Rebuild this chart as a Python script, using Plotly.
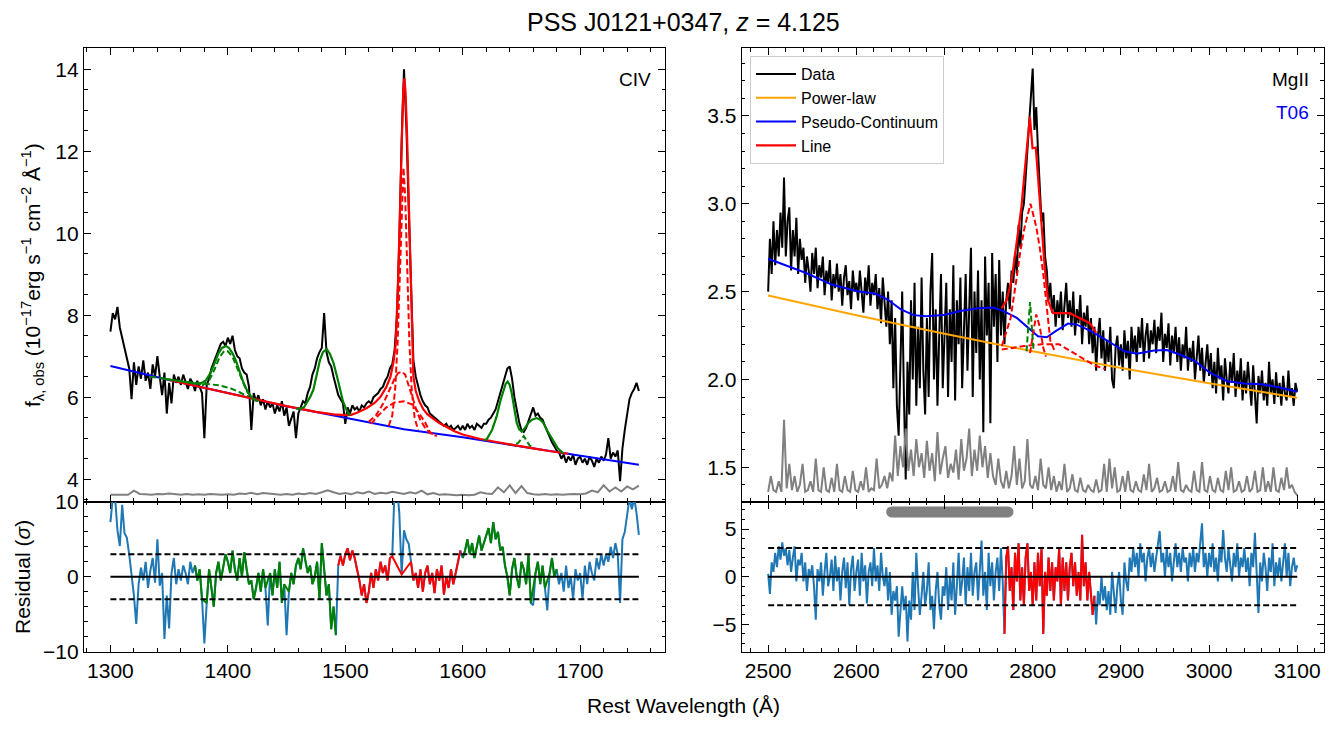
import numpy as np
import plotly.graph_objects as go

W, H = 1333, 729
FONT = "Liberation Sans, Arial, sans-serif"

# ---------------- CIV panel (left) ----------------
civ_start, civ_step = 1300, 2          # wavelength grid of the CIV spectrum (Angstrom)
civ_flux = [
    7.6, 8.05, 7.9, 8.2, 7.7, 7.45, 7.25, 7.0, 6.7, 5.95,
    6.85, 6.3, 6.75, 6.45, 6.9, 6.4, 6.6, 6.2, 6.8, 6.5,
    7.0, 6.5, 6.05, 6.6, 5.6, 6.35, 5.85, 6.55, 6.35, 6.5,
    6.3, 6.55, 6.4, 6.2, 6.45, 6.35, 6.15, 6.4, 6.25, 6.1,
    5.0, 6.3, 6.45, 6.7, 6.85, 7.0, 7.1, 7.3, 7.35, 7.25,
    7.45, 7.3, 7.5, 7.15, 7.0, 6.95, 6.7, 6.6, 6.55, 6.25,
    5.2, 6.1, 5.9, 6.05, 5.8, 5.95, 5.7, 5.9, 5.75, 5.85,
    5.6, 5.8, 5.65, 5.9, 5.55, 5.75, 5.3, 5.5, 5.65, 5.0,
    5.6, 5.75, 5.9, 5.85, 6.1, 6.25, 6.55, 6.7, 6.95, 7.1,
    7.2, 8.05, 7.1, 6.85, 6.75, 6.5, 6.3, 6.05, 5.95, 5.85,
    5.35, 5.75, 5.6, 5.8, 5.7, 5.75, 5.65, 5.8, 5.75, 5.85,
    5.9, 5.85, 6.0, 6.05, 6.1, 6.2, 6.25, 6.4, 6.5, 6.7,
    6.8, 7.15, 8.0, 9.8, 12.3, 14.0, 12.6, 10.6, 8.6, 6.9,
    6.5, 6.25, 6.05, 5.9, 5.8, 5.75, 5.6, 5.55, 5.5, 5.45,
    5.4, 5.35, 5.3, 5.35, 5.25, 5.3, 5.2, 5.25, 5.3, 5.2,
    5.3, 5.2, 5.35, 5.25, 5.3, 5.2, 5.35, 5.3, 5.25, 5.35,
    5.35, 5.45, 5.5, 5.6, 5.7, 5.9, 6.1, 6.3, 6.5, 6.7,
    6.75, 6.45, 6.0, 5.7, 5.4, 5.2, 5.15, 5.25, 5.4, 5.6,
    5.75, 5.55, 5.6, 5.5, 5.45, 5.3, 5.15, 5.0, 4.9, 4.8,
    4.7, 4.65, 4.5, 4.6, 4.4, 4.55, 4.45, 4.6, 4.35, 4.5,
    4.55, 4.4, 4.5, 4.35, 4.55, 4.45, 4.3, 4.5, 4.4, 4.55,
    4.45, 4.6, 5.0, 4.5, 4.65, 4.55, 4.7, 3.95, 4.75, 5.2,
    5.6, 5.95, 6.1, 6.2, 6.35, 6.15,
]
civ_resid = [
    7.3, 10.5, 10.5, 6.2, 4.1, 9.6, 5.8, 5.2, 3.0, 0.5,
    -2.5, -6.3, -1.0, 1.2, -0.5, 2.0, -1.5, 0.8, 2.5, -0.8,
    5.0, -1.2, 0.5, -8.3, -2.5, -6.9, 0.5, 2.5, -1.0, 1.0,
    -0.5, 1.5, 0.5, -1.0, 2.0, 0.5, 1.5, -0.5, 1.0, -3.0,
    -8.9, -3.5, 1.0, -1.5, -4.0, 0.5, 2.0, -0.5, 1.5, 3.0,
    2.0, 0.5, 3.5, 1.0, -0.5, 2.5, 0.0, 3.3, 1.0, -1.0,
    -0.5, -3.0, -1.5, 0.5, -2.0, 1.0, -1.5, -6.5, 0.5, -2.5,
    1.0, -1.5, 2.0, -3.5, -1.0, -7.8, -2.0, 0.5, -1.0, 1.5,
    2.5, 1.0, 3.8, 2.0, 0.5, 1.5, -1.0, 0.0, 2.0, -3.0,
    4.5, 1.0, -2.5, -1.0, -7.0, -4.0, -7.8, 1.5, 2.8, 1.5,
    3.0, 3.8, 2.2, 3.5, 2.5, 1.0, -0.5, -2.5, -1.0, -3.5,
    -2.0, 0.5, -1.5, 1.0, -0.5, 2.0, 0.5, 1.5, -0.5, 2.5,
    2.7, 12.0, 12.0, 8.5, 0.3, 6.2, 5.0, 4.4, 2.0, -0.5,
    0.5, -1.5, 1.0, -2.0, 0.5, 1.5, -1.0, 0.5, -2.2, 1.0,
    -0.5, 1.5, -2.4, 0.0, -1.5, 1.0, -1.0, 0.5, 2.0, 3.5,
    2.5, 3.5, 5.0, 3.0, 4.5, 2.5, 4.0, 5.5, 3.5, 4.5,
    5.5, 6.5, 4.5, 7.3, 5.0, 6.0, 3.5, 4.0, 1.5, 0.0,
    -2.5, 1.0, 2.5, 0.0, -1.5, 2.0, 1.0, -1.0, 3.0, -3.5,
    -3.8, 0.5, 2.0, -1.0, 1.5, -1.5, -4.5, 0.5, 2.5, 0.0,
    1.0, -1.0, 0.5, -2.0, 1.5, -1.5, 0.0, -3.0, 1.0, -0.5,
    0.5, -3.0, 1.5, -1.0, 2.0, 0.5, -0.5, 2.5, 1.0, 3.0,
    1.5, 3.0, 2.0, 4.0, 2.5, 4.5, 3.0, -3.5, 5.0, 6.0,
    8.0, 10.5, 9.0, 10.5, 8.5, 5.6,
]
civ_masked = [1380, 1434, 1450, 1542, 1544, 1546, 1550, 1552, 1554, 1660, 1672]
civ_windows = [(1372, 1493, "green"), (1494, 1599, "red"), (1600, 1681, "green")]

civ_err_start, civ_err_step = 1300, 5
civ_err = [
    3.62, 3.62, 3.63, 3.62, 3.72, 3.64, 3.63, 3.62, 3.64, 3.63,
    3.65, 3.63, 3.62, 3.64, 3.62, 3.63, 3.62, 3.64, 3.63, 3.62,
    3.63, 3.62, 3.65, 3.64, 3.67, 3.63, 3.66, 3.65, 3.64, 3.62,
    3.64, 3.62, 3.65, 3.63, 3.66, 3.64, 3.68, 3.73, 3.68, 3.64,
    3.66, 3.63, 3.68, 3.65, 3.70, 3.64, 3.67, 3.65, 3.69, 3.66,
    3.64, 3.68, 3.65, 3.72, 3.63, 3.66, 3.62, 3.63, 3.62, 3.61,
    3.62, 3.61, 3.62, 3.68, 3.65, 3.64, 3.80, 3.68, 3.85, 3.66,
    3.83, 3.66, 3.63, 3.62, 3.64, 3.62, 3.63, 3.62, 3.63, 3.64,
    3.63, 3.65, 3.72, 3.68, 3.85, 3.70, 3.80, 3.70, 3.82, 3.75,
    3.84,
]

# power-law continuum (blue)
civ_pl_wave = [1300, 1350, 1400, 1450, 1500, 1550, 1600, 1650, 1700, 1750]
civ_pl_flux = [6.76, 6.42, 6.10, 5.78, 5.50, 5.22, 5.02, 4.80, 4.57, 4.35]

# CIV line + continuum (red solid)
civ_line_wave = [1350, 1375, 1400, 1425, 1450, 1475, 1490, 1500, 1505, 1510, 1518, 1525,
                 1530, 1535, 1538.5, 1541, 1543, 1545, 1546.5, 1548, 1549.3, 1550.3,
                 1551.3, 1552.5, 1554, 1555.5, 1556.8, 1558, 1560, 1563, 1566.5, 1570,
                 1575, 1580, 1586, 1593, 1600, 1607, 1615, 1630, 1645, 1660, 1675, 1690]
civ_line_flux = [6.42, 6.26, 6.10, 5.93, 5.78, 5.64, 5.58, 5.56, 5.57, 5.62, 5.73, 5.86,
                 6.01, 6.25, 6.50, 6.85, 7.30, 8.90, 10.6, 12.4, 13.45, 13.78,
                 13.45, 12.5, 10.9, 9.2, 7.6, 6.5, 6.15, 5.90, 5.70, 5.58,
                 5.47, 5.37, 5.28, 5.17, 5.09, 5.03, 4.98, 4.90, 4.82, 4.75, 4.68, 4.62]

# CIV components (red dashed)
civ_comp_a_wave = [1520, 1526, 1532.4, 1538, 1542, 1545, 1548, 1551, 1554, 1557.9, 1561, 1563.8, 1568, 1572.4, 1578]
civ_comp_a_flux = [5.40, 5.55, 5.85, 6.20, 6.45, 6.59, 6.62, 6.55, 6.30, 5.93, 5.65, 5.45, 5.25, 5.12, 5.05]
civ_comp_b_wave = [1522, 1528, 1535, 1542, 1550, 1557, 1563, 1568, 1572, 1576]
civ_comp_b_flux = [5.35, 5.55, 5.75, 5.87, 5.90, 5.82, 5.60, 5.38, 5.15, 5.07]
civ_comp_c_wave = [1537, 1540, 1542.5, 1544.5, 1546.5, 1548, 1549.5, 1551, 1552.5, 1554.5, 1556.5, 1559, 1562]
civ_comp_c_flux = [5.30, 5.55, 6.20, 7.30, 9.00, 10.5, 11.6, 10.9, 9.30, 7.40, 6.20, 5.50, 5.20]

# other lines + continuum (green solid)
siiv_wave = [1345, 1352, 1365, 1376, 1381, 1385, 1389, 1392, 1395, 1398.4, 1401, 1404, 1407, 1410, 1413, 1417, 1421, 1426]
siiv_flux = [6.45, 6.42, 6.35, 6.32, 6.40, 6.58, 6.85, 7.07, 7.20, 7.25, 7.20, 7.07, 6.88, 6.62, 6.38, 6.12, 5.97, 5.90]
niv_wave = [1458, 1462, 1465, 1467, 1470, 1472.8, 1476, 1478.5, 1481, 1484.2, 1487, 1490, 1493, 1495.5, 1498, 1501, 1504]
niv_flux = [5.72, 5.72, 5.76, 5.85, 6.00, 6.18, 6.55, 6.91, 7.10, 7.17, 7.05, 6.83, 6.50, 6.18, 5.90, 5.69, 5.55]
heii_wave = [1618, 1620.4, 1625, 1628.9, 1632, 1634.6, 1636.5, 1638.3, 1640, 1641.7, 1644, 1646, 1648,
             1650.2, 1653, 1655.9, 1659, 1663, 1666, 1668.7, 1672, 1677.2, 1681, 1685.7]
heii_flux = [4.95, 4.97, 5.20, 5.53, 5.90, 6.18, 6.32, 6.38, 6.30, 6.10, 5.70, 5.37, 5.22,
             5.16, 5.25, 5.37, 5.45, 5.49, 5.45, 5.37, 5.18, 4.92, 4.75, 4.63]

# line components (green dashed)
siiv_broad_wave = [1334, 1350, 1365, 1380, 1392, 1402, 1410, 1418, 1425]
siiv_broad_flux = [6.50, 6.43, 6.37, 6.33, 6.29, 6.22, 6.12, 6.00, 5.92]
siiv_narrow_wave = [1378, 1384, 1389, 1393, 1397, 1400, 1404, 1408, 1412, 1416, 1421]
siiv_narrow_flux = [6.28, 6.40, 6.70, 6.98, 7.13, 7.12, 6.98, 6.70, 6.40, 6.15, 5.97]
heii_comp_wave = [1638, 1643, 1647, 1650, 1652, 1654, 1657, 1660]
heii_comp_flux = [4.85, 4.84, 4.88, 5.00, 5.05, 4.95, 4.82, 4.78]

# ---------------- MgII panel (right) ----------------
mg_start, mg_step = 2500, 2
mg_flux = [
    2.5, 2.8, 2.6, 2.9, 2.65, 2.85, 2.7, 2.95, 2.75, 3.15,
    2.7, 2.9, 2.98, 2.62, 2.85, 2.7, 2.92, 2.6, 2.8, 2.68,
    2.75, 2.55, 2.7, 2.62, 2.5, 2.72, 2.6, 2.75, 2.52, 2.65,
    2.58, 2.7, 2.48, 2.62, 2.55, 2.68, 2.45, 2.6, 2.52, 2.66,
    2.5, 2.6, 2.42, 2.58, 2.65, 2.48, 2.56, 2.4, 2.62, 2.5,
    2.55, 2.45, 2.62, 2.5, 2.38, 2.58, 2.48, 2.65, 2.42, 2.55,
    2.48, 2.6, 2.4, 2.52, 2.32, 2.58, 2.45, 2.3, 2.5, 2.2,
    2.45, 1.95, 2.35, 1.85, 1.68, 2.2, 2.5, 1.9, 1.43, 2.1,
    1.8, 2.45, 2.0, 2.55, 1.85, 2.3, 1.95, 2.58, 2.05, 1.8,
    2.35, 1.9, 2.5, 2.72, 2.0, 2.4, 1.85, 2.25, 2.6, 1.95,
    2.3, 2.55, 1.9, 2.4, 2.1, 2.65, 1.88, 2.45, 2.2, 2.58,
    1.95, 2.35, 2.6, 2.05, 2.4, 2.75, 1.9, 2.5, 2.15, 2.62,
    2.0, 2.45, 1.7, 2.7, 2.25, 2.55, 1.75, 2.72, 2.3, 2.6,
    2.1, 2.68, 2.25, 2.5, 2.2, 2.45, 2.55, 2.4, 2.62, 2.55,
    2.72, 2.6, 2.88, 2.75, 2.95, 3.0, 3.15, 3.3, 3.5, 3.62,
    3.77, 3.42, 3.55, 3.3, 3.1, 2.9, 2.95, 2.7, 2.62, 2.45,
    2.55, 2.38, 2.48, 2.3, 2.45, 2.35, 2.5, 2.28, 2.42, 2.55,
    2.35, 2.45, 2.3, 2.5, 2.25, 2.4, 2.32, 2.48, 2.2, 2.38,
    2.3, 2.42, 2.2, 2.35, 2.15, 2.3, 2.05, 2.25, 2.35, 2.12,
    2.28, 2.05, 2.22, 2.1, 2.3, 2.0, 1.95, 2.18, 2.25, 2.08,
    2.2, 2.05, 2.28, 2.12, 2.22, 2.0, 2.3, 2.15, 2.25, 2.1,
    2.3, 2.18, 2.35, 2.1, 2.25, 2.32, 2.12, 2.28, 2.2, 2.34,
    2.15, 2.3, 2.22, 2.38, 2.1, 2.26, 2.18, 2.32, 2.08, 2.25,
    2.15, 2.3, 2.1, 2.24, 2.05, 2.2, 2.12, 2.3, 2.05, 2.18,
    2.1, 2.22, 2.0, 2.15, 2.25, 2.05, 2.18, 1.98, 2.12, 2.2,
    2.02, 2.15, 1.95, 2.1, 1.92, 2.18, 2.0, 2.08, 1.88, 2.12,
    2.0, 1.92, 2.1, 1.98, 2.15, 1.9, 2.05, 1.95, 2.12, 1.88,
    2.05, 1.92, 2.1, 1.96, 1.85, 2.08, 1.9, 1.75, 2.02, 1.92,
    2.05, 1.88, 1.98, 1.85, 2.1, 1.92, 2.0, 1.86, 2.04, 1.9,
    1.98, 1.85, 2.02, 1.92, 1.88, 2.05, 1.9, 1.95, 1.85, 1.98,
    1.93,
]
mg_resid = [
    0.3, -1.8, 1.5, 0.5, 2.5, 1.0, 3.2, 1.8, 3.6, 2.2,
    3.0, 1.2, 2.8, 0.5, 2.0, 3.2, -0.5, 1.8, 1.2, 2.5,
    -0.5, 1.5, -1.5, 0.8, 0.0, 1.2, -1.0, -4.5, 0.8, -0.5,
    1.5, -2.0, 0.5, 2.5, -1.0, 0.0, 1.8, -1.5, 2.2, -0.5,
    1.0, -2.5, 0.5, 2.0, -1.2, 1.5, -3.0, 0.8, 2.2, -1.5,
    0.5, 1.8, -2.0, 2.5, -0.5, 1.2, -2.8, 0.5, 1.5, -1.0,
    3.0, -0.5, 1.2, -1.5, 2.5, 0.0, -1.0, 1.0, -2.5, 0.5,
    -4.0, -1.5, -2.5, -1.0, -6.3, -3.0, -1.0, -3.5, -2.0, -6.8,
    -2.5, -4.5, 0.5, -3.5, 2.5, -1.0, -4.0, -2.0, 0.5, -3.0,
    -1.5, 1.5, -3.5, -2.0, -5.5, -1.5, 0.5, -3.0, -4.5, -1.0,
    -2.0, 1.0, -3.5, 0.0, -2.5, 1.5, -4.0, -1.0, 2.5, -2.0,
    -0.5, 2.0, -3.0, 1.0, -1.5, 2.5, -2.0, 0.5, 1.5, -2.5,
    1.0, 3.8, -2.0, 0.5, -3.5, 2.5, -1.0, 1.5, -2.5, 0.5,
    2.0, -1.5, 3.0, -0.5, -6.0, 2.0, 3.2, -1.5, 1.0, -3.5,
    2.5, -0.5, 3.5, -2.5, 1.0, -3.0, 2.0, 3.5, -1.5, 0.5,
    -3.0, 1.5, -2.5, 2.5, -1.0, 3.0, -6.0, 0.5, -2.0, 2.0,
    -1.5, 1.5, -2.5, 1.0, -0.5, 3.0, -3.0, 2.0, -1.5, 1.5,
    -2.5, 1.0, 2.5, -1.0, 1.5, -2.0, 0.5, -2.5, 4.4, -1.0,
    1.5, -2.5, 0.5, -1.5, -4.0, -2.0, -5.0, -1.5, -3.0, 0.0,
    -2.5, -1.0, -3.5, -1.5, -4.0, 0.5, -2.0, -3.8, -1.0, 0.5,
    -2.5, -4.0, 1.5, -0.5, -1.5, 2.0, 0.5, 3.0, 1.0, 2.5,
    0.0, 3.5, 1.5, 2.5, -0.5, 2.0, 3.0, 1.0, 2.5, 0.5,
    2.0, 3.5, 4.8, 1.5, 2.5, 0.0, 3.0, 1.0, 2.5, -0.5,
    2.0, 3.5, 1.0, 2.5, 0.5, 3.0, 1.5, 2.0, -0.5, 2.5,
    1.0, 3.0, 0.5, 2.5, 1.5, 3.5, 5.6, 1.0, 2.5, 0.0,
    2.5, 1.0, 3.5, 0.5, 2.0, -0.5, 3.0, 1.5, 4.9, 2.0,
    0.5, 3.0, 1.5, -0.5, 2.5, 1.0, 3.5, 0.0, 2.0, 1.0,
    3.0, 0.5, 2.0, -1.0, 2.5, 1.0, 4.6, -0.5, -3.8, 1.5,
    -0.5, 2.5, 1.0, -1.5, 2.0, 0.5, 3.5, -1.0, 1.5, 0.0,
    2.0, -0.5, 1.5, 3.5, 0.0, 2.5, -1.0, 1.0, 2.0, 0.5,
    1.2,
]
mg_windows = [(2768, 2870, "red")]
mg_mask_range = (2640, 2772)   # pixels flagged as absorption (grey dots)
mg_mask_level = 6.8

mg_err_start, mg_err_step = 2500, 3
mg_err = [
    1.36, 1.45, 1.37, 1.36, 1.42, 1.36, 1.77, 1.38, 1.52, 1.37,
    1.45, 1.36, 1.40, 1.52, 1.36, 1.37, 1.42, 1.36, 1.55, 1.37,
    1.36, 1.50, 1.37, 1.36, 1.44, 1.36, 1.52, 1.37, 1.36, 1.45,
    1.37, 1.36, 1.48, 1.37, 1.36, 1.42, 1.37, 1.50, 1.36, 1.38,
    1.37, 1.55, 1.38, 1.40, 1.45, 1.38, 1.47, 1.42, 1.68, 1.45,
    1.62, 1.50, 1.72, 1.48, 1.60, 1.45, 1.66, 1.50, 1.58, 1.44,
    1.65, 1.48, 1.58, 1.42, 1.70, 1.46, 1.55, 1.62, 1.44, 1.52,
    1.47, 1.60, 1.43, 1.66, 1.48, 1.55, 1.72, 1.45, 1.60, 1.48,
    1.68, 1.50, 1.62, 1.44, 1.58, 1.45, 1.40, 1.55, 1.42, 1.38,
    1.48, 1.38, 1.45, 1.62, 1.40, 1.55, 1.38, 1.42, 1.66, 1.40,
    1.38, 1.45, 1.37, 1.55, 1.40, 1.38, 1.50, 1.37, 1.45, 1.36,
    1.42, 1.37, 1.52, 1.36, 1.38, 1.46, 1.37, 1.36, 1.44, 1.37,
    1.36, 1.40, 1.37, 1.36, 1.43, 1.36, 1.37, 1.52, 1.36, 1.55,
    1.38, 1.50, 1.36, 1.37, 1.45, 1.36, 1.48, 1.37, 1.36, 1.42,
    1.37, 1.36, 1.46, 1.37, 1.52, 1.36, 1.38, 1.44, 1.36, 1.37,
    1.42, 1.36, 1.37, 1.45, 1.36, 1.53, 1.37, 1.36, 1.40, 1.37,
    1.36, 1.48, 1.37, 1.36, 1.53, 1.37, 1.36, 1.45, 1.37, 1.36,
    1.44, 1.37, 1.36, 1.48, 1.37, 1.50, 1.36, 1.37, 1.42, 1.36,
    1.37, 1.45, 1.36, 1.38, 1.48, 1.36, 1.37, 1.50, 1.36, 1.42,
    1.36, 1.50, 1.37, 1.36, 1.44, 1.37, 1.50, 1.38, 1.40, 1.36,
    1.34,
]

mg_pl_wave = [2500, 2600, 2700, 2800, 2900, 3000, 3100]
mg_pl_flux = [2.478, 2.365, 2.26, 2.16, 2.065, 1.978, 1.896]

mg_fe_wave = [2500, 2523, 2543, 2572, 2601, 2621, 2635.5, 2650, 2665, 2679, 2699, 2718, 2738, 2755,
              2767, 2782, 2796, 2806, 2816, 2826, 2840, 2850, 2865, 2884, 2903.6, 2918, 2937.7,
              2952, 2967, 2984, 3001, 3020.5, 3040, 3059.5, 3079, 3100]
mg_fe_flux = [2.687, 2.644, 2.606, 2.54, 2.502, 2.489, 2.455, 2.40, 2.366, 2.36, 2.367, 2.389, 2.405, 2.409,
              2.389, 2.35, 2.288, 2.246, 2.24, 2.275, 2.318, 2.312, 2.278, 2.223, 2.161, 2.146, 2.165,
              2.167, 2.142, 2.104, 2.038, 1.99, 1.977, 1.972, 1.956, 1.93]

mg_line_wave = [2764.7, 2770.4, 2776, 2781.5, 2787.2, 2791, 2794, 2796.8, 2799.8, 2803.5, 2806, 2810,
                2813.6, 2817.4, 2823, 2830.6, 2842, 2853, 2864.8, 2872]
mg_line_flux = [2.405, 2.45, 2.565, 2.756, 2.98, 3.19, 3.36, 3.496, 3.316, 3.32, 3.155, 2.87,
                2.64, 2.45, 2.377, 2.377, 2.377, 2.35, 2.32, 2.265]

mg_comp_a_wave = [2765, 2775, 2782, 2786, 2791, 2797.5, 2804, 2808, 2812, 2816, 2820, 2825]
mg_comp_a_flux = [2.19, 2.35, 2.585, 2.73, 2.87, 3.00, 2.87, 2.75, 2.60, 2.40, 2.22, 2.16]
mg_comp_b_wave = [2797, 2800, 2804, 2808, 2812, 2815]
mg_comp_b_flux = [2.15, 2.25, 2.37, 2.30, 2.18, 2.13]
mg_comp_c_wave = [2765, 2790, 2810, 2830, 2850, 2870, 2882]
mg_comp_c_flux = [2.17, 2.19, 2.20, 2.20, 2.14, 2.08, 2.06]
mg_narrow_wave = [2793, 2795, 2797, 2799, 2801]
mg_narrow_flux = [2.16, 2.30, 2.44, 2.30, 2.16]

# ---------------- build ----------------
civ_wave = civ_start + civ_step * np.arange(len(civ_flux))
civ_err_wave = civ_err_start + civ_err_step * np.arange(len(civ_err))
mg_wave = mg_start + mg_step * np.arange(len(mg_flux))
mg_err_wave = mg_err_start + mg_err_step * np.arange(len(mg_err))

fig = go.Figure()

def line(x, y, color, xa, ya, width=2.0, dash=None, name=None, legend=False):
    fig.add_trace(go.Scatter(x=list(x), y=list(y), mode="lines", xaxis=xa, yaxis=ya,
                             line=dict(color=color, width=width, dash=dash),
                             name=name, showlegend=legend, hoverinfo="skip"))

DASH = "6px,3px"

# top-left
line(civ_wave, civ_flux, "black", "x", "y", width=2)
line(civ_err_wave, civ_err, "gray", "x", "y", width=2)
line(civ_pl_wave, civ_pl_flux, "blue", "x", "y", width=2)
for wv, fl in [(siiv_broad_wave, siiv_broad_flux), (siiv_narrow_wave, siiv_narrow_flux),
               (heii_comp_wave, heii_comp_flux)]:
    line(wv, fl, "green", "x", "y", width=2, dash=DASH)
for wv, fl in [(civ_comp_a_wave, civ_comp_a_flux), (civ_comp_b_wave, civ_comp_b_flux),
               (civ_comp_c_wave, civ_comp_c_flux)]:
    line(wv, fl, "red", "x", "y", width=2, dash=DASH)
line(civ_line_wave, civ_line_flux, "red", "x", "y", width=2.2)
for wv, fl in [(siiv_wave, siiv_flux), (niv_wave, niv_flux), (heii_wave, heii_flux)]:
    line(wv, fl, "green", "x", "y", width=2.2)

# top-right
line(mg_wave, mg_flux, "black", "x2", "y2", width=2, name="Data", legend=True)
line(mg_err_wave, mg_err, "gray", "x2", "y2", width=2)
line(mg_pl_wave, mg_pl_flux, "orange", "x2", "y2", width=2, name="Power-law", legend=True)
line(mg_fe_wave, mg_fe_flux, "blue", "x2", "y2", width=2, name="Pseudo-Continuum", legend=True)
for wv, fl in [(mg_comp_a_wave, mg_comp_a_flux), (mg_comp_b_wave, mg_comp_b_flux),
               (mg_comp_c_wave, mg_comp_c_flux)]:
    line(wv, fl, "red", "x2", "y2", width=2, dash=DASH)
line(mg_narrow_wave, mg_narrow_flux, "green", "x2", "y2", width=2, dash=DASH)
line(mg_line_wave, mg_line_flux, "red", "x2", "y2", width=2.2, name="Line", legend=True)

# residuals
RB = "#1f77b4"
def residual_panel(wave, resid, windows, masked, xa, ya):
    line(wave, resid, RB, xa, ya, width=2)
    for lo, hi, col in windows:
        xs = [w for w, r in zip(wave, resid) if lo <= w <= hi and w not in masked]
        ys = [r for w, r in zip(wave, resid) if lo <= w <= hi and w not in masked]
        line(xs, ys, col, xa, ya, width=2)
    x0, x1 = wave[0], wave[-1]
    line([x0, x1], [0, 0], "black", xa, ya, width=2)
    line([x0, x1], [3, 3], "black", xa, ya, width=2, dash=DASH)
    line([x0, x1], [-3, -3], "black", xa, ya, width=2, dash=DASH)

residual_panel(list(civ_wave), civ_resid, civ_windows, civ_masked, "x3", "y3")
residual_panel(list(mg_wave), mg_resid, mg_windows, [], "x4", "y4")
mxs = [w for w in mg_wave if mg_mask_range[0] <= w <= mg_mask_range[1]]
fig.add_trace(go.Scatter(x=mxs, y=[mg_mask_level] * len(mxs), mode="markers", xaxis="x4", yaxis="y4",
                         marker=dict(color="gray", size=11, line=dict(width=0)),
                         showlegend=False, hoverinfo="skip"))

# ---------------- layout ----------------
def px(x):
    return x / W

def py(y):
    return 1 - y / H

xL = [px(84), px(665.3)]
xR = [px(741.7), px(1323.7)]
yT = [py(501.7), py(48.3)]
yB = [py(652.0), py(501.7)]

def axis(domain, rng, dtick, minor, anchor, labels=True, fmt=None, tick0=0):
    d = dict(domain=domain, range=rng, anchor=anchor, dtick=dtick, tick0=tick0,
             automargin=False,
             showline=True, linecolor="black", linewidth=1.3, mirror="allticks",
             ticks="inside", ticklen=7, tickwidth=1.3, tickcolor="black",
             showgrid=False, zeroline=False, showticklabels=labels,
             tickfont=dict(size=21, color="black", family=FONT),
             minor=dict(ticks="inside", ticklen=3.5, tickwidth=1, tickcolor="black",
                        dtick=minor, tick0=tick0, showgrid=False))
    if fmt:
        d["tickformat"] = fmt
    return d

fig.update_layout(
    width=W, height=H, margin=dict(l=0, r=0, t=0, b=0, autoexpand=False),
    paper_bgcolor="white", plot_bgcolor="white",
    font=dict(family=FONT, color="black"),
    xaxis=axis(xL, [1277.5, 1772.5], 100, 20, "y", labels=False),
    yaxis=axis(yT, [3.45, 14.51], 2, 0.5, "x"),
    xaxis2=axis(xR, [2470, 3130], 100, 20, "y2", labels=False),
    yaxis2=axis(yT, [1.304, 3.885], 0.5, 0.1, "x2", fmt=".1f"),
    xaxis3=axis(xL, [1277.5, 1772.5], 100, 20, "y3"),
    yaxis3=axis(yB, [-10.05, 10.02], 10, 2, "x3"),
    xaxis4=axis(xR, [2470, 3130], 100, 20, "y4"),
    yaxis4=axis(yB, [-7.9, 7.87], 5, 1, "x4"),
    legend=dict(x=px(750), y=py(56), xanchor="left", yanchor="top",
                bgcolor="rgba(255,255,255,0.85)", bordercolor="#cccccc", borderwidth=1,
                font=dict(size=16, family=FONT, color="black"), tracegroupgap=0,
                itemwidth=40),
    showlegend=True,
)

ann = [
    dict(text="PSS J0121+0347, <i>z</i> = 4.125", x=px(683), y=py(22), size=25),
    dict(text="Rest Wavelength (Å)", x=px(683), y=py(705), size=21),
    dict(text="f<sub>λ, obs</sub> (10<sup>−17</sup>erg s<sup>−1</sup> cm<sup>−2</sup> Å<sup>−1</sup>)",
         x=px(32), y=py(275), size=21, angle=-90),
    dict(text="Residual (<i>σ</i>)", x=px(22), y=py(577), size=21, angle=-90),
    dict(text="CIV", x=px(653), y=py(80), size=19, xanchor="right"),
    dict(text="MgII", x=px(1311), y=py(80), size=19, xanchor="right"),
    dict(text="T06", x=px(1311), y=py(112), size=19, xanchor="right", color="blue"),
]
for a in ann:
    fig.add_annotation(text=a["text"], x=a["x"], y=a["y"], xref="paper", yref="paper",
                       showarrow=False, textangle=a.get("angle", 0),
                       xanchor=a.get("xanchor", "center"), yanchor="middle",
                       font=dict(size=a["size"], family=FONT, color=a.get("color", "black")))

fig.write_html("out.html", config={"displayModeBar": False},
               post_script="document.body.style.margin='0';document.body.style.overflow='hidden';")
